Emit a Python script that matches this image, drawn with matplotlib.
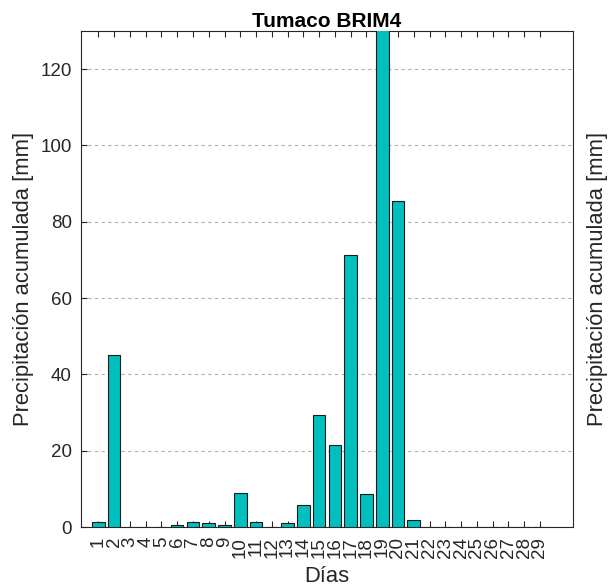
import numpy as np
import matplotlib.pyplot as plt

plt.rcParams['font.family'] = ['Liberation Sans', 'DejaVu Sans']

# daily precipitation (mm), days 1..29
dias = list(range(1, 30))
precip = [1.2, 45.2, 0.0, 0.0, 0.1, 0.4, 1.2, 1.0, 0.4, 9.0,
          1.2, 0.0, 1.0, 5.8, 29.4, 21.4, 71.3, 8.7, 140.0, 85.5,
          1.8, 0.0, 0.0, 0.0, 0.0, 0.0, 0.0, 0.0, 0.0]

fig = plt.figure(figsize=(6.14, 5.88), dpi=100)
ax = fig.add_axes([81/614, 1 - 527/588, (573-81)/614, (527-31)/588])

ax.bar(dias, precip, width=0.8, color='#00bfbf', edgecolor='#1a1a1a', linewidth=0.8, zorder=3)

ax.set_xlim(-0.1, 31.1)
ax.set_ylim(0, 130)
ax.set_xticks(dias)
ax.set_xticklabels([str(d) for d in dias], rotation=90)
ax.set_yticks([0, 20, 40, 60, 80, 100, 120])
ax.yaxis.grid(True, linestyle=(0, (3, 3)), color='#b0b0b0', linewidth=0.8, zorder=0)

ax.tick_params(axis='both', direction='in', top=True, right=True, length=4,
               color='#262626', labelsize=13.5, labelcolor='#262626', width=0.8)
ax.tick_params(axis='x', pad=7)
ax.tick_params(axis='y', pad=6.5)
for s in ax.spines.values():
    s.set_color('#262626')
    s.set_linewidth(0.8)

ax.set_xlabel('Días', fontsize=15.8, color='#262626', labelpad=6)
ax.set_ylabel('Precipitación acumulada [mm]', fontsize=15.8, color='#262626', labelpad=5)
ax.set_title('Tumaco BRIM4', fontsize=15, fontweight='bold', pad=2)

ax2 = ax.twinx()
ax2.set_ylim(0, 130)
ax2.set_yticks([])
ax2.set_ylabel('Precipitación acumulada [mm]', fontsize=15.8, color='#262626', labelpad=10)
for s in ax2.spines.values():
    s.set_visible(False)

fig.savefig('out.png', dpi=100)
